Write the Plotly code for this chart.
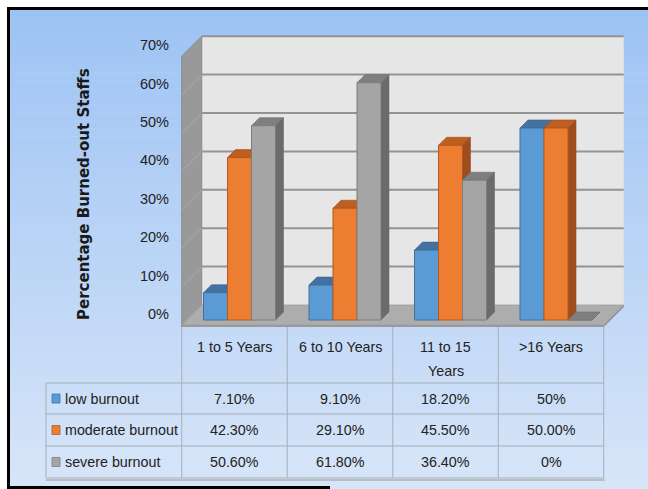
import plotly.graph_objects as go

# ---------------- data ----------------
categories = ["1 to 5 Years", "6 to 10 Years", "11 to 15<br>Years", ">16 Years"]
series_names = ["low burnout", "moderate burnout", "severe burnout"]
low = [7.1, 9.1, 18.2, 50.0]
moderate = [42.3, 29.1, 45.5, 50.0]
severe = [50.6, 61.8, 36.4, 0.0]
low_labels = ["7.10%", "9.10%", "18.20%", "50%"]
moderate_labels = ["42.30%", "29.10%", "45.50%", "50.00%"]
severe_labels = ["50.60%", "61.80%", "36.40%", "0%"]
y_ticks = [0, 10, 20, 30, 40, 50, 60, 70]
y_title = "Percentage Burned-out Staffs"

# ---------------- style / layout ----------------
W, H = 648, 489
FONT = "Liberation Sans, Arial, sans-serif"
TXT = "#222222"
front_col = ["#5B9BD5", "#ED7D31", "#A5A5A5"]
edge_col = ["#41719C", "#AE5A21", "#7C7C7C"]
top_col = ["#4472A0", "#BE5E20", "#7F7F7F"]
side_col = ["#3A6590", "#9E4E1C", "#6B6B6B"]

PX_L, PX_R, PX_T, PX_B = 170, 640, 25, 335   # plot area (pixels)
X0, UX = 239.5, 105.5                          # category-0 centre px, px per category
Y0, UY = 320.0, 3.84                           # zero px, px per percent
xr = [(PX_L - X0) / UX, (PX_R - X0) / UX]
yr = [(Y0 - PX_B) / UY, (Y0 - PX_T) / UY]

BW = 24 / UX             # bar width
DX, DY = 8 / UX, 8 / UY  # bar depth
FX, FY = -5 / UX, -5 / UY    # wall front plane offset
BX, BY = 15 / UX, 15 / UY    # wall back plane offset
FT = 2 / UY                  # floor thickness

def fx(p):
    return p / W

def fy(p):
    return 1 - p / H

def xpx(d):
    return X0 + d * UX

series = [low, moderate, severe]
xs = list(range(len(categories)))
offs = [-1.5 * BW, -0.5 * BW, 0.5 * BW]

fig = go.Figure()

# 3-D top / side faces (base axes, drawn under the bar fronts)
for i in xs:
    for s, vals in enumerate(series):
        v = vals[i]
        l = i + offs[s]
        r = l + BW
        fig.add_trace(go.Scatter(
            x=[l, r, r + DX, l + DX, l], y=[v, v, v + DY, v + DY, v],
            fill="toself", fillcolor=top_col[s], mode="lines",
            line=dict(color=side_col[s], width=0.6),
            hoverinfo="skip", showlegend=False))
        fig.add_trace(go.Scatter(
            x=[r, r + DX, r + DX, r, r], y=[0, DY, v + DY, v, 0],
            fill="toself", fillcolor=side_col[s], mode="lines",
            line=dict(color=side_col[s], width=0.6),
            hoverinfo="skip", showlegend=False))

# bar front faces on an overlaid axis pair so they sit on top of the faces
for s, vals in enumerate(series):
    fig.add_trace(go.Bar(
        x=xs, y=vals, name=series_names[s], width=BW, offset=offs[s],
        marker=dict(color=front_col[s], line=dict(color=edge_col[s], width=1)),
        xaxis="x2", yaxis="y2", showlegend=False))

shapes = []
# background gradient
n_b = 60
top_rgb, bot_rgb = (157, 195, 244), (215, 229, 248)
for k in range(n_b):
    t = k / (n_b - 1)
    c = tuple(round(a + (b - a) * t) for a, b in zip(top_rgb, bot_rgb))
    y_a = 8 + (489 - 8) * k / n_b
    y_b = 8 + (489 - 8) * (k + 1) / n_b + 0.6
    shapes.append(dict(type="rect", xref="paper", yref="paper", layer="below",
                       x0=fx(8), x1=1.0, y0=fy(y_a), y1=fy(min(y_b, 489)),
                       fillcolor="rgb(%d,%d,%d)" % c, line=dict(width=0)))
# black frame (left, top, bottom-left)
for (xa, ya, xb, yb) in [(8.5, 7, 8.5, 489), (7, 8.5, 648, 8.5), (7, 487.5, 330, 487.5)]:
    shapes.append(dict(type="line", xref="paper", yref="paper",
                       x0=fx(xa), y0=fy(ya), x1=fx(xb), y1=fy(yb),
                       line=dict(color="black", width=3)))

x_lo, x_hi = -0.5, len(categories) - 0.5
ytop = y_ticks[-1]

def path(pts):
    return "M " + " L ".join("%f,%f" % p for p in pts) + " Z"

# back wall
shapes.append(dict(type="rect", xref="x", yref="y", layer="below",
                   x0=x_lo + BX, x1=x_hi + BX, y0=BY, y1=ytop + BY,
                   fillcolor="#E6E6E6", line=dict(width=0)))
for t in y_ticks[1:]:
    shapes.append(dict(type="line", xref="x", yref="y", layer="below",
                       x0=x_lo + BX, x1=x_hi + BX, y0=t + BY, y1=t + BY,
                       line=dict(color="#949494", width=2)))
# side wall
shapes.append(dict(type="path", xref="x", yref="y", layer="below",
                   path=path([(x_lo + FX, FY - FT), (x_lo + FX, ytop + FY),
                              (x_lo + BX, ytop + BY), (x_lo + BX, BY)]),
                   fillcolor="#999999", line=dict(color="#8A8A8A", width=1)))
for t in y_ticks[1:-1]:
    shapes.append(dict(type="line", xref="x", yref="y", layer="below",
                       x0=x_lo + FX, x1=x_lo + BX, y0=t + FY, y1=t + BY,
                       line=dict(color="#ABABAB", width=1)))
# floor
shapes.append(dict(type="path", xref="x", yref="y", layer="below",
                   path=path([(x_lo + FX, FY), (x_hi + FX, FY), (x_hi + BX, BY), (x_lo + BX, BY)]),
                   fillcolor="#ADADAD", line=dict(color="#A0A0A0", width=0.8)))
shapes.append(dict(type="path", xref="x", yref="y", layer="below",
                   path=path([(x_lo + FX, FY), (x_hi + FX, FY), (x_hi + FX, FY - FT), (x_lo + FX, FY - FT)]),
                   fillcolor="#9A9A9A", line=dict(width=0)))
shapes.append(dict(type="path", xref="x", yref="y", layer="below",
                   path=path([(x_hi + FX, FY), (x_hi + BX, BY), (x_hi + BX, BY - FT), (x_hi + FX, FY - FT)]),
                   fillcolor="#8F8F8F", line=dict(width=0)))

# ---------------- data table ----------------
LINE = "#A8AEB6"
col_px = [xpx(i - 0.5 + FX) for i in range(len(categories) + 1)]
label_left = 46
head_top = 327
row_px = [383, 414, 446, 478]

def hline(xa, xb, yp, color=LINE, width=1):
    shapes.append(dict(type="line", xref="paper", yref="paper",
                       x0=fx(xa), x1=fx(xb), y0=fy(yp), y1=fy(yp),
                       line=dict(color=color, width=width)))

def vline(xp, ya, yb):
    shapes.append(dict(type="line", xref="paper", yref="paper",
                       x0=fx(xp), x1=fx(xp), y0=fy(ya), y1=fy(yb),
                       line=dict(color=LINE, width=1)))

hline(label_left, col_px[-1] + 1, row_px[-1] + 2, color="#B9BEC6", width=2)
for xp in col_px:
    vline(xp, head_top, row_px[-1])
vline(label_left, row_px[0], row_px[-1])
for yp in row_px:
    hline(label_left, col_px[-1], yp)

TS = 14.3
annotations = []
for i, cat in enumerate(categories):
    for j, part in enumerate(cat.split("<br>")):
        annotations.append(dict(xref="paper", yref="paper", x=fx((col_px[i] + col_px[i + 1]) / 2),
                                y=fy(347 + 24 * j), text=part, showarrow=False,
                                xanchor="center", yanchor="middle",
                                font=dict(family=FONT, size=TS, color=TXT)))
row_labels = [low_labels, moderate_labels, severe_labels]
for s in range(3):
    yc = (row_px[s] + row_px[s + 1]) / 2
    shapes.append(dict(type="rect", xref="paper", yref="paper",
                       x0=fx(52), x1=fx(60), y0=fy(yc - 4.5), y1=fy(yc + 4.5),
                       fillcolor=front_col[s], line=dict(color=edge_col[s], width=0.8)))
    annotations.append(dict(xref="paper", yref="paper", x=fx(63), y=fy(yc),
                            text=series_names[s], showarrow=False, xanchor="left", yanchor="middle",
                            font=dict(family=FONT, size=TS, color=TXT)))
    for i in range(len(categories)):
        annotations.append(dict(xref="paper", yref="paper", x=fx((col_px[i] + col_px[i + 1]) / 2),
                                y=fy(yc), text=row_labels[s][i], showarrow=False,
                                xanchor="center", yanchor="middle",
                                font=dict(family=FONT, size=TS, color=TXT)))

annotations.append(dict(xref="paper", yref="paper", x=fx(84), y=fy(194), text="<b>" + y_title + "</b>",
                        textangle=-90, showarrow=False, xanchor="center", yanchor="middle",
                        font=dict(family="DejaVu Sans, sans-serif", size=15, color="#1a1a1a")))

axis_common = dict(showgrid=False, zeroline=False, showline=False, ticks="")
fig.update_layout(
    width=W, height=H, margin=dict(l=0, r=0, t=0, b=0),
    paper_bgcolor="white", plot_bgcolor="rgba(0,0,0,0)",
    barmode="overlay", showlegend=False,
    xaxis=dict(domain=[fx(PX_L), fx(PX_R)], range=xr, showticklabels=False, fixedrange=True, **axis_common),
    yaxis=dict(domain=[fy(PX_B), fy(PX_T)], range=yr, tickvals=y_ticks,
               ticktext=["%d%%" % t for t in y_ticks], ticklabelshift=-6,
               tickfont=dict(family=FONT, size=14.5, color=TXT), fixedrange=True, **axis_common),
    xaxis2=dict(overlaying="x", anchor="y2", range=xr, showticklabels=False, **axis_common),
    yaxis2=dict(overlaying="y", anchor="x2", range=yr, showticklabels=False, **axis_common),
    shapes=shapes, annotations=annotations,
)

fig.write_html(
    "out.html",
    config={"displayModeBar": False},
    post_script="document.body.style.margin='0';document.body.style.overflow='hidden';"
                "document.documentElement.style.overflow='hidden';",
)
